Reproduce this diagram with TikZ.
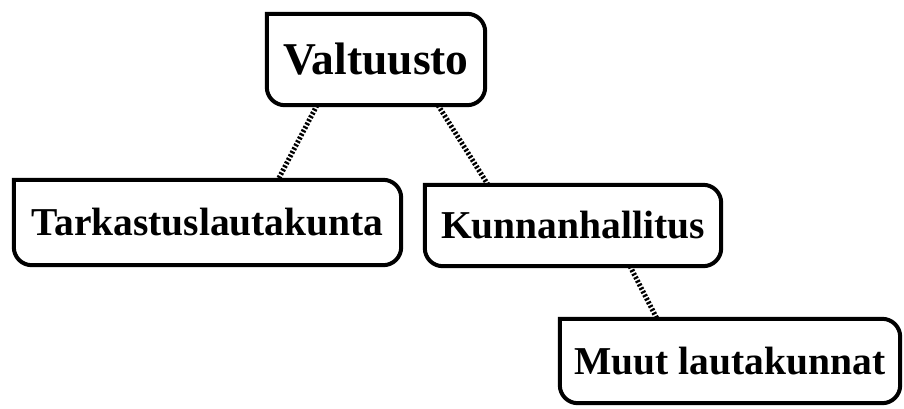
\documentclass[tikz,border=0pt]{standalone}
\usepackage{fontspec}
\setmainfont{Liberation Serif}
\newcommand{\obpath}[1]{(#1.north west) -- ([xshift=-18pt]#1.north east) arc[start angle=90,end angle=0,radius=18pt] -- ([yshift=18pt]#1.south east) arc[start angle=0,end angle=-90,radius=18pt] -- ([xshift=18pt]#1.south west) arc[start angle=270,end angle=180,radius=18pt] -- cycle}
\newcommand{\obox}[1]{%
  \foreach \s/\o in {8/0.10,6/0.14,4/0.18}{\fill[black,opacity=\o,xshift=\s pt,yshift=-\s pt] \obpath{#1};}
  \filldraw[boxline] \obpath{#1};}
\begin{document}
\begin{tikzpicture}[x=1pt,y=-1pt,
  lbl/.style={inner sep=0pt,font=\bfseries\fontsize{39.5}{41}\selectfont},
  boxline/.style={draw=black,fill=white,line width=4pt},
  conn/.style={line width=5pt,dash pattern=on 2.2pt off 1.8pt,black}]
\useasboundingbox (0,0) rectangle (904,408);
\node[lbl,minimum width=218pt,minimum height=91pt] (v) at (376,59.5) {};
\node[lbl,minimum width=387pt,minimum height=85pt] (t) at (207.5,222.5) {};
\node[lbl,minimum width=296pt,minimum height=81pt] (k) at (573,225.5) {};
\node[lbl,minimum width=340pt,minimum height=84pt] (m) at (730,361) {};
\draw[conn] ([xshift=-59pt]v.south) -- ([xshift=70.5pt]t.north);
\draw[conn] ([xshift=62pt]v.south) -- ([xshift=-85pt]k.north);
\draw[conn] ([xshift=57pt]k.south) -- ([xshift=-73pt]m.north);
\obox{v}\obox{t}\obox{k}\obox{m}
\node[lbl,font=\bfseries\fontsize{45.5}{47}\selectfont] at (v) {Valtuusto};
\node[lbl] at (t) {Tarkastuslautakunta};
\node[lbl] at (k) {Kunnanhallitus};
\node[lbl] at (m) {Muut lautakunnat};
\end{tikzpicture}
\end{document}
